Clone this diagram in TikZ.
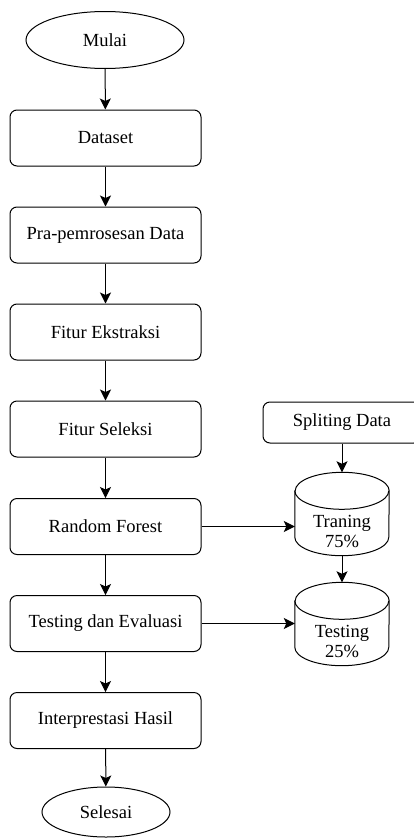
\documentclass[tikz,border=0pt]{standalone}
\usepackage{fontspec}
\setmainfont{Liberation Serif}
\usetikzlibrary{arrows.meta,shapes.geometric}
\tikzset{
    stage/.style={draw, line width=1pt, rounded corners=7pt,
                  minimum width=191pt, minimum height=56pt, align=center},
    terminal/.style={ellipse, draw, line width=1pt, inner sep=0pt},
    store/.style={minimum width=94pt, minimum height=83pt, inner sep=0pt},
    store line/.style={line width=1pt},
    flow/.style={-{Stealth[length=11pt, width=11pt, inset=2.5pt]}, line width=1pt},
    note/.style={align=center},
}
\newcommand{\flowcanvas}{
    \path[use as bounding box] (0,0) rectangle (414,838);
}
% #1 name, #2 position, #3 label; the can is drawn round the named node
\newcommand{\datastore}[3]{
    \node[store, label={[note, yshift=-17pt]center:#3}] (#1) at (#2) {};
    \draw[store line] ([yshift=-18.5pt]#1.north west)
        -- ([yshift=18.5pt]#1.south west)
        arc[start angle=180, end angle=360, x radius=47pt, y radius=18.5pt]
        -- ([yshift=-18.5pt]#1.north east)
        arc[start angle=0, end angle=180, x radius=47pt, y radius=18.5pt]
        -- cycle;
    \draw[store line] ([yshift=-18.5pt]#1.north west)
        arc[start angle=180, end angle=360, x radius=47pt, y radius=18.5pt];
}

\begin{document}
\begin{tikzpicture}[x=1pt, y=-1pt, font=\fontsize{18.5}{20}\selectfont]
    \flowcanvas

    % main column
    \node[terminal, minimum width=158pt, minimum height=57pt] (mulai) at (105,40) {Mulai};
    \node[stage] (dataset)   at (105.5,138)   {Dataset};
    \node[stage] (prep)      at (105.5,235)   {Pra-pemrosesan Data};
    \node[stage] (extract)   at (105.5,332)   {Fitur Ekstraksi};
    \node[stage] (select)    at (105.5,429)   {Fitur Seleksi};
    \node[stage] (forest)    at (105.5,526.5) {Random Forest};
    \node[stage] (evaluate)  at (105.5,623.5) {Testing dan Evaluasi};
    \node[stage] (interpret) at (105.5,720.5) {Interprestasi Hasil};
    \node[terminal, minimum width=128pt, minimum height=50pt] (selesai) at (106,812) {Selesai};

    \draw[flow] (mulai) -- (dataset);
    \draw[flow] (dataset) -- (prep);
    \draw[flow] (prep) -- (extract);
    \draw[flow] (extract) -- (select);
    \draw[flow] (select) -- (forest);
    \draw[flow] (forest) -- (evaluate);
    \draw[flow] (evaluate) -- (interpret);
    \draw[flow] (interpret) -- (selesai);

    % data split
    \node[stage, minimum width=158pt, minimum height=41pt] (split) at (342,422.5) {Spliting Data};
    \datastore{train}{342,514}{Traning\\75\%}
    \datastore{test}{342,624}{Testing\\25\%}

    \draw[flow] (split) -- (train);
    \draw[flow] (train) -- (test);
    \draw[flow] (forest.east) -- (forest.east -| train.west);
    \draw[flow] (evaluate.east) -- (evaluate.east -| test.west);

\end{tikzpicture}
\end{document}
